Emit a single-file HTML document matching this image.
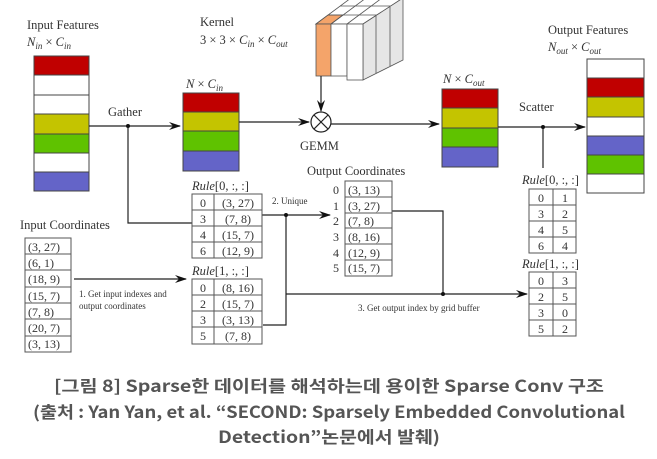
<!DOCTYPE html>
<html><head><meta charset="utf-8"><style>
body{margin:0;background:#fff;width:657px;height:459px;overflow:hidden}
svg{display:block}
.s{font-family:"Liberation Serif",serif;fill:#333}
.cap{font-family:"Noto Sans CJK KR","Liberation Sans",sans-serif;font-weight:bold;fill:#555;font-size:16.5px}
</style></head><body>
<svg width="657" height="459" viewBox="0 0 657 459">
<defs><marker id="a" markerWidth="12" markerHeight="8" refX="11" refY="4" orient="auto" markerUnits="userSpaceOnUse"><path d="M0,0 L12,4 L0,8 L4,4z" fill="#111"/></marker></defs>
<g stroke="#444" stroke-width="1">
<rect x="34" y="56" width="55" height="19" fill="#c00000"/>
<rect x="34" y="75" width="55" height="20" fill="#fff"/>
<rect x="34" y="95" width="55" height="19" fill="#fff"/>
<rect x="34" y="114" width="55" height="20" fill="#c4c400"/>
<rect x="34" y="134" width="55" height="19" fill="#5fc200"/>
<rect x="34" y="153" width="55" height="19" fill="#fff"/>
<rect x="34" y="172" width="55" height="19" fill="#6464c8"/>
<rect x="183" y="93" width="56" height="19" fill="#c00000"/>
<rect x="183" y="112" width="56" height="19" fill="#c4c400"/>
<rect x="183" y="131" width="56" height="20" fill="#5fc200"/>
<rect x="183" y="151" width="56" height="20" fill="#6464c8"/>
<rect x="442" y="89" width="56" height="19" fill="#c00000"/>
<rect x="442" y="108" width="56" height="20" fill="#c4c400"/>
<rect x="442" y="128" width="56" height="19" fill="#5fc200"/>
<rect x="442" y="147" width="56" height="20" fill="#6464c8"/>
<rect x="587" y="59" width="57" height="19" fill="#fff"/>
<rect x="587" y="78" width="57" height="19" fill="#c00000"/>
<rect x="587" y="97" width="57" height="20" fill="#c4c400"/>
<rect x="587" y="117" width="57" height="19" fill="#fff"/>
<rect x="587" y="136" width="57" height="19" fill="#6464c8"/>
<rect x="587" y="155" width="57" height="19" fill="#5fc200"/>
<rect x="587" y="174" width="57" height="19" fill="#fff"/>
</g>
<!-- kernel cube -->
<g stroke="#555" stroke-width="0.8">
<path d="M316,24 L351,-2 L403,-2 L363,24z" fill="#fff"/>
<path d="M316,24 L328,15 L343,15 L331,24z" fill="#f4a46a"/>
<line x1="331" y1="24" x2="366" y2="-2"/><line x1="347" y1="24" x2="382" y2="-2"/>
<line x1="328" y1="15" x2="380" y2="15"/><line x1="340" y1="6" x2="392" y2="6"/>
<path d="M363,24 L403,-2 L403,60 L363,80z" fill="#e6e6e6"/>
<line x1="376" y1="16" x2="376" y2="73"/><line x1="390" y1="7" x2="390" y2="66"/>
<rect x="316" y="24" width="15" height="52" fill="#f4a46a"/>
<rect x="331" y="24" width="16" height="52" fill="#fff"/>
<rect x="347" y="24" width="16" height="56" fill="#fff"/>
</g>
<g stroke="#222" stroke-width="1.2" fill="none">
<line x1="89" y1="126" x2="180" y2="126" marker-end="url(#a)"/>
<polyline points="128,126 128,223 192,223"/>
<line x1="239" y1="122" x2="309" y2="122" marker-end="url(#a)"/>
<line x1="321" y1="76" x2="321" y2="111" marker-end="url(#a)"/>
<circle cx="321" cy="122" r="10" fill="#fff"/>
<line x1="314" y1="115" x2="328" y2="129"/><line x1="328" y1="115" x2="314" y2="129"/>
<line x1="331" y1="124" x2="439" y2="124" marker-end="url(#a)"/>
<line x1="498" y1="127" x2="585" y2="127" marker-end="url(#a)"/>
<line x1="543" y1="127" x2="543" y2="168"/>
<line x1="262" y1="215" x2="330" y2="215" marker-end="url(#a)"/>
<polyline points="286,215 286,325 263,325"/>
<line x1="286" y1="294" x2="527" y2="294" marker-end="url(#a)"/>
<polyline points="392,211 443,211 443,294"/>
<line x1="74" y1="279" x2="186" y2="279" marker-end="url(#a)"/>
</g>
<g fill="#111"><circle cx="128" cy="126" r="2"/><circle cx="543" cy="127" r="2"/><circle cx="286" cy="215" r="2"/><circle cx="443" cy="294" r="2"/></g>
<g stroke="#555" stroke-width="1" fill="#fff">
<rect x="192" y="194" width="70" height="64"/><line x1="192" y1="210" x2="262" y2="210"/><line x1="192" y1="226" x2="262" y2="226"/><line x1="192" y1="242" x2="262" y2="242"/><line x1="214" y1="194" x2="214" y2="258"/>
<rect x="192" y="279" width="70" height="65"/><line x1="192" y1="295" x2="262" y2="295"/><line x1="192" y1="311" x2="262" y2="311"/><line x1="192" y1="327" x2="262" y2="327"/><line x1="214" y1="279" x2="214" y2="344"/>
<rect x="345" y="181" width="47" height="95"/><line x1="345" y1="197" x2="392" y2="197"/><line x1="345" y1="213" x2="392" y2="213"/><line x1="345" y1="228" x2="392" y2="228"/><line x1="345" y1="244" x2="392" y2="244"/><line x1="345" y1="260" x2="392" y2="260"/>
<rect x="529" y="189" width="47" height="64"/><line x1="529" y1="205" x2="576" y2="205"/><line x1="529" y1="221" x2="576" y2="221"/><line x1="529" y1="237" x2="576" y2="237"/><line x1="553" y1="189" x2="553" y2="253"/>
<rect x="529" y="272" width="47" height="64"/><line x1="529" y1="288" x2="576" y2="288"/><line x1="529" y1="304" x2="576" y2="304"/><line x1="529" y1="320" x2="576" y2="320"/><line x1="553" y1="272" x2="553" y2="336"/>
<rect x="25" y="238" width="46" height="114"/><line x1="25" y1="254" x2="71" y2="254"/><line x1="25" y1="270" x2="71" y2="270"/><line x1="25" y1="287" x2="71" y2="287"/><line x1="25" y1="303" x2="71" y2="303"/><line x1="25" y1="319" x2="71" y2="319"/><line x1="25" y1="336" x2="71" y2="336"/>
</g>
<g class="s" font-size="12.5">
<text x="27" y="29">Input Features</text>
<text x="27" y="46" font-style="italic">N<tspan font-size="9" dy="3">in</tspan><tspan dy="-3" font-style="normal"> × </tspan>C<tspan font-size="9" dy="3">in</tspan></text>
<text x="200" y="26">Kernel</text>
<text x="200" y="44">3 × 3 × <tspan font-style="italic">C</tspan><tspan font-size="9" dy="3" font-style="italic">in</tspan><tspan dy="-3"> × </tspan><tspan font-style="italic">C</tspan><tspan font-size="9" dy="3" font-style="italic">out</tspan></text>
<text x="186" y="88" font-style="italic">N<tspan font-style="normal"> × </tspan>C<tspan font-size="9" dy="3">in</tspan></text>
<text x="443" y="83" font-style="italic">N<tspan font-style="normal"> × </tspan>C<tspan font-size="9" dy="3">out</tspan></text>
<text x="108" y="116">Gather</text>
<text x="519" y="111">Scatter</text>
<text x="300" y="150">GEMM</text>
<text x="548" y="34">Output Features</text>
<text x="548" y="51" font-style="italic">N<tspan font-size="9" dy="3">out</tspan><tspan dy="-3" font-style="normal"> × </tspan>C<tspan font-size="9" dy="3">out</tspan></text>
<text x="307" y="175">Output Coordinates</text>
<text x="20" y="229">Input Coordinates</text>
<text x="192" y="190"><tspan font-style="italic">Rule</tspan>[0, :, :]</text>
<text x="192" y="275"><tspan font-style="italic">Rule</tspan>[1, :, :]</text>
<text x="522" y="184"><tspan font-style="italic">Rule</tspan>[0, :, :]</text>
<text x="522" y="268"><tspan font-style="italic">Rule</tspan>[1, :, :]</text>
</g>
<g class="s" font-size="9">
<text x="272" y="204">2. Unique</text>
<text x="79" y="297">1. Get input indexes and</text>
<text x="79" y="309">output coordinates</text>
<text x="358" y="311">3. Get output index by grid buffer</text>
</g>
<g class="s" font-size="12">
<g text-anchor="middle">
<text x="203" y="207">0</text><text x="203" y="223">3</text><text x="203" y="239">4</text><text x="203" y="255">6</text>
<text x="238" y="207">(3, 27)</text><text x="238" y="223">(7, 8)</text><text x="238" y="239">(15, 7)</text><text x="238" y="255">(12, 9)</text>
<text x="203" y="292">0</text><text x="203" y="308">2</text><text x="203" y="324">3</text><text x="203" y="340">5</text>
<text x="238" y="292">(8, 16)</text><text x="238" y="308">(15, 7)</text><text x="238" y="324">(3, 13)</text><text x="238" y="340">(7, 8)</text>
<text x="541" y="202">0</text><text x="541" y="218">3</text><text x="541" y="234">4</text><text x="541" y="250">6</text>
<text x="565" y="202">1</text><text x="565" y="218">2</text><text x="565" y="234">5</text><text x="565" y="250">4</text>
<text x="541" y="285">0</text><text x="541" y="301">2</text><text x="541" y="317">3</text><text x="541" y="333">5</text>
<text x="565" y="285">3</text><text x="565" y="301">5</text><text x="565" y="317">0</text><text x="565" y="333">2</text>
<text x="336" y="194">0</text><text x="336" y="210">1</text><text x="336" y="225">2</text><text x="336" y="241">3</text><text x="336" y="257">4</text><text x="336" y="272">5</text>
</g>
<text x="348" y="194">(3, 13)</text><text x="348" y="210">(3, 27)</text><text x="348" y="225">(7, 8)</text><text x="348" y="241">(8, 16)</text><text x="348" y="257">(12, 9)</text><text x="348" y="272">(15, 7)</text>
<text x="28" y="251">(3, 27)</text><text x="28" y="267">(6, 1)</text><text x="28" y="283">(18, 9)</text><text x="28" y="300">(15, 7)</text><text x="28" y="316">(7, 8)</text><text x="28" y="332">(20, 7)</text><text x="28" y="348">(3, 13)</text>
</g>
<g class="cap" text-anchor="middle">
<text x="329" y="392" textLength="550" lengthAdjust="spacingAndGlyphs">[그림 8] Sparse한 데이터를 해석하는데 용이한 Sparse Conv 구조</text>
<text x="329" y="418" textLength="592" lengthAdjust="spacingAndGlyphs">(출처 : Yan Yan, et al. “SECOND: Sparsely Embedded Convolutional</text>
<text x="329" y="443" textLength="222" lengthAdjust="spacingAndGlyphs">Detection”논문에서 발췌)</text>
</g>
</svg>
</body></html>
